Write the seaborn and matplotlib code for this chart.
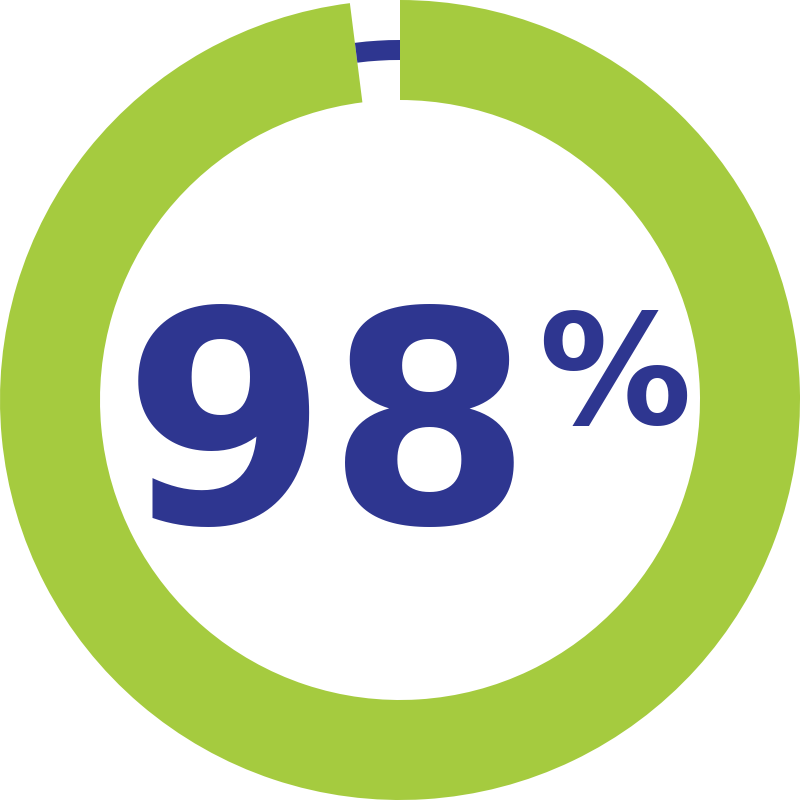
import matplotlib
matplotlib.use("Agg")
import matplotlib.pyplot as plt
import seaborn as sns

# Data
labels = ['Yes', 'No']
values = [98, 2]
pct_text = '98'
green = '#A5CB3F'
navy = '#2E3690'

sns.set_theme(style='white')
plt.rcParams['font.family'] = ['DejaVu Sans']

fig = plt.figure(figsize=(8, 8), dpi=100)
ax = fig.add_axes([0, 0, 1, 1])

# thick green ring for the 98% share
ax.pie(values, colors=[green, 'none'], startangle=90, counterclock=False,
       radius=1.0, wedgeprops=dict(width=0.25, linewidth=0))
# thin navy arc for the rest
ax.pie(values, colors=['none', navy], startangle=90, counterclock=False,
       radius=0.9, wedgeprops=dict(width=0.05, linewidth=0))

ax.text(-0.18, -0.3075, pct_text, ha='center', va='baseline', fontsize=212,
        fontweight='bold', color=navy)
ax.text(0.5375, -0.06, '%', ha='center', va='baseline', fontsize=110,
        fontweight='bold', color=navy)

ax.set_xlim(-1, 1)
ax.set_ylim(-1, 1)
ax.set_aspect('equal')
ax.axis('off')

fig.savefig('out.png', dpi=100, facecolor='white')
